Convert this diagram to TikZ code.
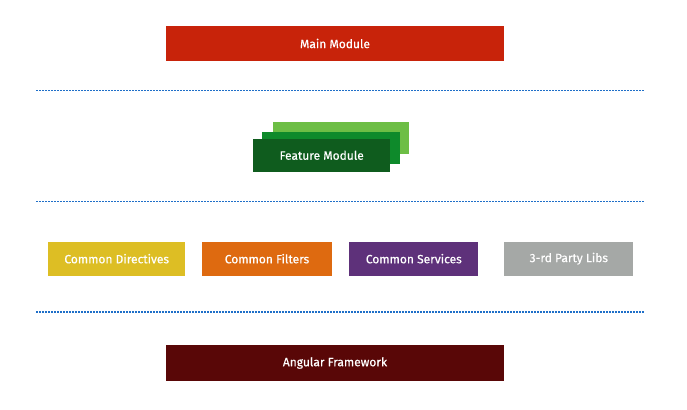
\documentclass[tikz,border=0pt]{standalone}
\usepackage{fontspec}
\setmainfont{Fira Sans}
\newfontfamily\boxfont[FakeBold=0.5]{Fira Sans}
\definecolor{mainred}{HTML}{C8230A}
\definecolor{featdark}{HTML}{0F5C1E}
\definecolor{featmid}{HTML}{0E8A2B}
\definecolor{featlight}{HTML}{6DBE45}
\definecolor{diryellow}{HTML}{DDBE24}
\definecolor{filtorange}{HTML}{DE6A10}
\definecolor{servpurple}{HTML}{5E317A}
\definecolor{libgrey}{HTML}{A5A8A6}
\definecolor{angdark}{HTML}{590707}
\definecolor{sepblue}{HTML}{1F6FC8}
\newcommand{\lowtext}[1]{\raisebox{-1.8pt}{#1}}
\begin{document}
\begin{tikzpicture}[x=1pt,y=-1pt,
  box/.style={inner sep=0pt, outer sep=0pt, text=white, font=\boxfont\fontsize{12}{14}\selectfont},
  sep/.style={draw=sepblue, line width=1.2pt, dash pattern=on 1.5pt off 1.5pt}]
\useasboundingbox (0,0) rectangle (687,409);
% main module
\node[box, fill=mainred, minimum width=338pt, minimum height=35pt] (main) at (335,43.5) {\lowtext{Main Module}};
% separators
\coordinate (s1a) at (36,90.5); \coordinate (s1b) at (645,90.5);
\coordinate (s2a) at (36,201.5); \coordinate (s2b) at (645,201.5);
\coordinate (s3a) at (36,312); \coordinate (s3b) at (645,312);
\draw[sep] (s1a) -- (s1b);
\draw[sep] (s2a) -- (s2b);
\draw[sep] (s3a) -- (s3b);
% feature module stack
\node[box, fill=featlight, minimum width=136pt, minimum height=32.6pt] (featback) at (340.5,138) {};
\node[box, fill=featmid, minimum width=137.7pt, minimum height=32.6pt] (featmid) at (331.2,148) {};
\node[box, fill=featdark, minimum width=136.7pt, minimum height=32.7pt] (feat) at (321.7,155.3) {\lowtext{Feature Module}};
% common row
\node[box, fill=diryellow, minimum width=136.7pt, minimum height=34pt] (dir) at (116.7,258.7) {\lowtext{Common Directives}};
\node[box, fill=filtorange, minimum width=129.4pt, minimum height=34pt] (filt) at (267,258.7) {\lowtext{Common Filters}};
\node[box, fill=servpurple, minimum width=129pt, minimum height=34pt] (serv) at (413.8,258.7) {\lowtext{Common Services}};
\node[box, fill=libgrey, minimum width=129pt, minimum height=34pt] (libs) at (568.8,258.7) {\lowtext{3-rd Party Libs}};
% angular framework
\node[box, fill=angdark, minimum width=338pt, minimum height=36pt] (ang) at (335,363) {\lowtext{Angular Framework}};
\end{tikzpicture}
\end{document}
